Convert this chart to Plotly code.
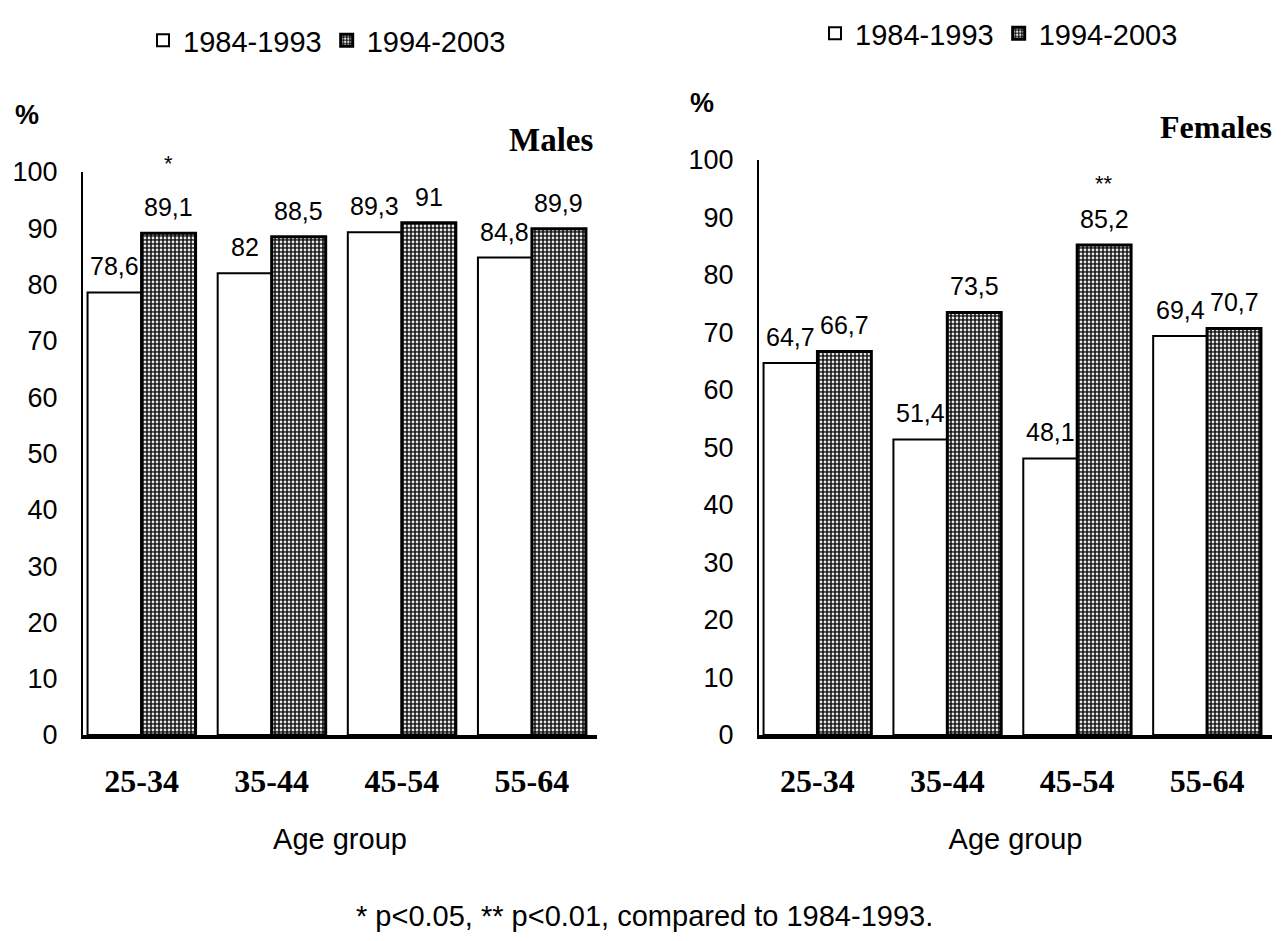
import plotly.graph_objects as go

age_groups = ["25-34", "35-44", "45-54", "55-64"]
series_names = ["1984-1993", "1994-2003"]
males_1984 = [78.6, 82.0, 89.3, 84.8]
males_1994 = [89.1, 88.5, 91.0, 89.9]
females_1984 = [64.7, 51.4, 48.1, 69.4]
females_1994 = [66.7, 73.5, 85.2, 70.7]
males_sig = ["*", "", "", ""]
females_sig = ["", "", "**", ""]
y_ticks = list(range(0, 101, 10))
footnote = "* p<0.05, ** p<0.01, compared to 1984-1993."


def fmt(v):
    s = ("%.1f" % v).rstrip("0").rstrip(".")
    return s.replace(".", ",")


OFF = 8  # page body margin
W, H = 1271, 931


def px(x):
    return (x - OFF) / W


def py(y):
    return 1 - (y - OFF) / H


SANS = "Liberation Sans, Arial, sans-serif"
SERIF = "Liberation Serif, Times New Roman, serif"
BARGAP = 0.17

white_marker = dict(color="white", line=dict(color="black", width=2))
hatch_marker = dict(color="#404040", line=dict(color="black", width=3),
                    pattern=dict(shape=".", fgcolor="#e8e8e8", bgcolor="#1a1a1a",
                                 size=4, solidity=0.38, fillmode="replace"))

fig = go.Figure()
off = (1 - BARGAP) / 4
panels = [
    ("x", "y", "legend", males_1984, males_1994, males_sig, 70),
    ("x2", "y2", "legend2", females_1984, females_1994, females_sig, 62),
]
for xa, ya, lg, a, b, sig, ys in panels:
    fig.add_trace(go.Bar(x=age_groups, y=a, name=series_names[0], xaxis=xa, yaxis=ya,
                         marker=white_marker, legend=lg))
    fig.add_trace(go.Bar(x=age_groups, y=b, name=series_names[1], xaxis=xa, yaxis=ya,
                         marker=hatch_marker, legend=lg))
    for i, v in enumerate(a):
        fig.add_annotation(x=i - off, y=v, xref=xa, yref=ya, text=fmt(v), showarrow=False,
                           xanchor="center", yanchor="middle", yshift=26,
                           font=dict(family=SANS, size=25, color="black"))
    for i, v in enumerate(b):
        fig.add_annotation(x=i + off, y=v, xref=xa, yref=ya, text=fmt(v), showarrow=False,
                           xanchor="center", yanchor="middle", yshift=26,
                           font=dict(family=SANS, size=25, color="black"))
        if sig[i]:
            fig.add_annotation(x=i + off, y=v, xref=xa, yref=ya, text=sig[i], showarrow=False,
                               xanchor="center", yanchor="middle", yshift=ys,
                               font=dict(family=SANS, size=22, color="black"))

xdom1 = [px(83), px(597)]
xdom2 = [px(759), px(1272)]
ydom1 = [py(735), py(172)]
ydom2 = [py(735), py(160)]

xcommon = dict(type="category", range=[-0.45, 3.5], showline=True, linecolor="black",
               linewidth=4, ticks="", showgrid=False, zeroline=False, automargin=False,
               tickfont=dict(family=SERIF, size=32, color="black", weight="bold"),
               ticklabelstandoff=15,
               title=dict(text="Age group", font=dict(family=SANS, size=29, color="black"),
                          standoff=31))
ycommon = dict(range=[0, 100], tickvals=y_ticks, showline=True, linecolor="black",
               linewidth=2, ticks="", showgrid=False, zeroline=False, automargin=False,
               tickfont=dict(family=SANS, size=27, color="black"),
               ticklabelstandoff=18)

fig.update_layout(
    width=W, height=H,
    margin=dict(l=0, r=0, t=0, b=0, autoexpand=False),
    paper_bgcolor="white", plot_bgcolor="white",
    barmode="group", bargap=BARGAP, bargroupgap=0,
    xaxis=dict(domain=xdom1, anchor="y", **xcommon),
    yaxis=dict(domain=ydom1, anchor="x", **ycommon),
    xaxis2=dict(domain=xdom2, anchor="y2", **xcommon),
    yaxis2=dict(domain=ydom2, anchor="x2", **ycommon),
    legend=dict(orientation="h", x=px(143), y=py(15), xanchor="left", yanchor="top",
                font=dict(family=SANS, size=29, color="black"), bgcolor="rgba(0,0,0,0)",
                itemwidth=30),
    legend2=dict(orientation="h", x=px(815), y=py(8), xanchor="left", yanchor="top",
                 font=dict(family=SANS, size=29, color="black"), bgcolor="rgba(0,0,0,0)",
                 itemwidth=30),
    showlegend=True,
)

ann_common = dict(xref="paper", yref="paper", showarrow=False, xanchor="center", yanchor="middle")
fig.add_annotation(x=px(27), y=py(115), text="<b>%</b>",
                   font=dict(family=SANS, size=27, color="black"), **ann_common)
fig.add_annotation(x=px(702), y=py(103), text="<b>%</b>",
                   font=dict(family=SANS, size=27, color="black"), **ann_common)
fig.add_annotation(x=px(551), y=py(140), text="<b>Males</b>",
                   font=dict(family=SERIF, size=33, color="black"), **ann_common)
fig.add_annotation(x=px(1216), y=py(127), text="<b>Females</b>",
                   font=dict(family=SERIF, size=32, color="black"), **ann_common)
fig.add_annotation(x=px(644), y=py(916), text=footnote,
                   font=dict(family=SANS, size=29, color="black"), **ann_common)

fig.write_html("out.html")
